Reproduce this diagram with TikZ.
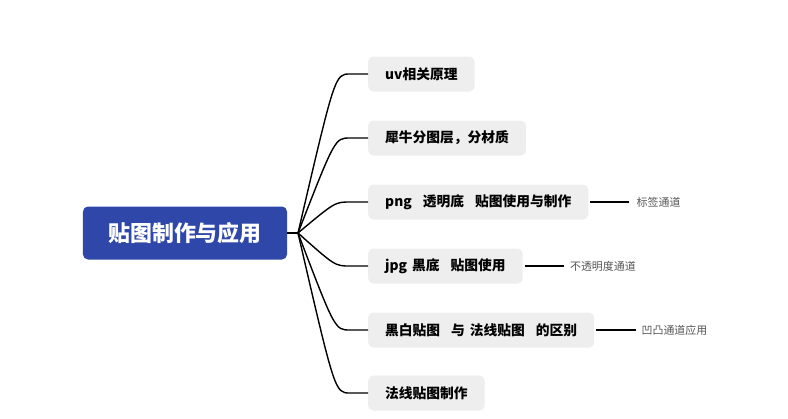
\documentclass[tikz,border=0pt]{standalone}
\usepackage{fontspec}
\newfontfamily\cjk{Noto Sans CJK SC}
\usetikzlibrary{positioning}
\definecolor{rootblue}{RGB}{47,71,168}
\definecolor{leafgray}{RGB}{238,238,238}
\definecolor{notegray}{RGB}{85,85,85}
\newcommand\wgap{\hspace{11bp}}
\newcommand\sgap{\hspace{5bp}}
\tikzset{
  rootbox/.style={fill=rootblue, rounded corners=5bp, text=white,
    font=\cjk\bfseries\fontsize{22}{25}\selectfont,
    minimum width=204bp, minimum height=53bp},
  leaf/.style={fill=leafgray, rounded corners=5bp, anchor=west,
    font=\cjk\bfseries\fontsize{13.8}{16}\selectfont,
    minimum height=35bp, inner xsep=17bp},
  note/.style={font=\cjk\fontsize{11}{13}\selectfont, text=notegray, inner sep=2bp},
  branch/.style={line width=1.4bp},
  tick/.style={line width=1.1bp},
}
\begin{document}
\begin{tikzpicture}[x=1bp,y=-1bp]
            \useasboundingbox (0,0) rectangle (788,418);
            \node[rootbox] (root) at (185,233) {贴图制作与应用};
            \coordinate (hub) at (298,233);
            \node[leaf] (uv) at (368,74) {uv相关原理};
            \node[leaf] (layer) at (368,138) {犀牛分图层，分材质};
            \node[leaf] (png) at (368,202) {png\wgap 透明底\wgap 贴图使用与制作};
            \node[leaf] (jpg) at (368,266) {jpg\sgap 黑底\wgap 贴图使用};
            \node[leaf] (bw) at (368,330) {黑白贴图\wgap 与\sgap 法线贴图\wgap 的区别};
            \node[leaf] (normal) at (368,393) {法线贴图制作};
            \node[note, right=46bp of png] (tag) {标签通道};
            \node[note, right=45bp of jpg] (opaque) {不透明度通道};
            \node[note, right=45bp of bw] (bump) {凹凸通道应用};
            \draw[branch] (root.east) -- (hub);
            \draw[branch] (hub) .. controls ([xshift=-33bp]uv.west) .. ([xshift=-18bp]uv.west) -- (uv.west);
            \draw[branch] (hub) .. controls ([xshift=-33bp]layer.west) .. ([xshift=-18bp]layer.west) -- (layer.west);
            \draw[branch] (hub) .. controls ([xshift=-33bp]png.west) .. ([xshift=-18bp]png.west) -- (png.west);
            \draw[branch] (hub) .. controls ([xshift=-33bp]jpg.west) .. ([xshift=-18bp]jpg.west) -- (jpg.west);
            \draw[branch] (hub) .. controls ([xshift=-33bp]bw.west) .. ([xshift=-18bp]bw.west) -- (bw.west);
            \draw[branch] (hub) .. controls ([xshift=-33bp]normal.west) .. ([xshift=-18bp]normal.west) -- (normal.west);
            \draw[tick] ([xshift=2bp]png.east) -- ([xshift=-5bp]tag.west);
            \draw[tick] ([xshift=2bp]jpg.east) -- ([xshift=-4bp]opaque.west);
            \draw[tick] ([xshift=2bp]bw.east) -- ([xshift=-3bp]bump.west);
\end{tikzpicture}
\end{document}
